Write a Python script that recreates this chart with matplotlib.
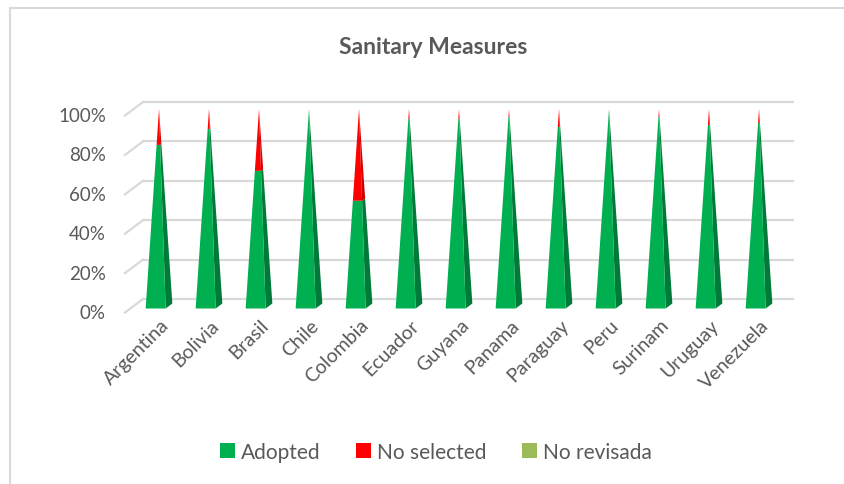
import matplotlib
matplotlib.use("Agg")
import matplotlib.pyplot as plt
from matplotlib.patches import Patch, Polygon
from matplotlib.lines import Line2D

categories = ["Argentina", "Bolivia", "Brasil", "Chile", "Colombia", "Ecuador",
              "Guyana", "Panama", "Paraguay", "Peru", "Surinam", "Uruguay", "Venezuela"]
adopted = [82, 90, 69, 100, 54, 95, 95, 96, 91, 100, 96, 92, 93]
no_selected = [18, 10, 31, 0, 46, 5, 5, 4, 9, 0, 4, 8, 7]
no_revisada = [0, 0, 0, 0, 0, 0, 0, 0, 0, 0, 0, 0, 0]
series_names = ["Adopted", "No selected", "No revisada"]
yticks = [0, 20, 40, 60, 80, 100]
ytick_labels = ["0%", "20%", "40%", "60%", "80%", "100%"]

front_colors = ["#00B050", "#FF0000", "#9BBB59"]
side_colors = ["#007A38", "#D00000", "#76923C"]
text_color = "#595959"
grid_color = "#D9D9D9"

plt.rcParams['font.family'] = ['Lato', 'DejaVu Sans']

W, H = 844, 485
fig = plt.figure(figsize=(W / 100, H / 100), dpi=100)

# axes placed in pixel units
ax_left, ax_right = 125, 795
ax_top, ax_bottom = 110, 307
ax = fig.add_axes([ax_left / W, 1 - ax_bottom / H, (ax_right - ax_left) / W, (ax_bottom - ax_top) / H])
px_per_x = 50.0
x0 = -(159 - ax_left) / px_per_x
x1 = x0 + (ax_right - ax_left) / px_per_x
ax.set_xlim(x0, x1)
ax.set_ylim(0, 100)
ax.axis("off")
py = (ax_bottom - ax_top) / 100.0  # pixels per y unit


def dx(p):
    return p / px_per_x


def dy(p):
    return p / py

# back wall gridlines + left wall diagonals
back_shift = dy(7)
for v, lab in zip(yticks, ytick_labels):
    yb = v + back_shift
    ax.add_line(Line2D([dx(143 - 125) + x0, dx(793 - 125) + x0], [yb, yb],
                       color=grid_color, lw=1.6, clip_on=False, zorder=1))
    ax.add_line(Line2D([x0, dx(143 - 125) + x0], [yb - dy(13.5), yb],
                       color=grid_color, lw=1.6, clip_on=False, zorder=1))
    ax.text(x0 - dx(19), yb - dy(13.5), lab, ha="right", va="center",
            fontsize=13.5, color=text_color)

# pyramids
hw = dx(10)
ddx, ddy = dx(6.7), dy(5)


def corner(i, t, sx, sz):
    # t: fraction of height (0..1); sx: -1/+1 left/right ; sz: -1 front, +1 back
    s = 1 - t
    return (i + s * (sx * hw + sz * ddx / 2), 100 * t + s * (sz * ddy / 2))


stack = [adopted, no_selected, no_revisada]
for i in range(len(categories)):
    total = adopted[i] + no_selected[i] + no_revisada[i]
    base = 0.0
    for k, vals in enumerate(stack):
        if vals[i] <= 0:
            continue
        t0 = base / total
        t1 = (base + vals[i]) / total
        front = [corner(i, t0, -1, -1), corner(i, t0, 1, -1), corner(i, t1, 1, -1), corner(i, t1, -1, -1)]
        side = [corner(i, t0, 1, -1), corner(i, t0, 1, 1), corner(i, t1, 1, 1), corner(i, t1, 1, -1)]
        ax.add_patch(Polygon(side, closed=True, facecolor=side_colors[k], edgecolor="none",
                             clip_on=False, zorder=3))
        ax.add_patch(Polygon(front, closed=True, facecolor=front_colors[k], edgecolor="none",
                             clip_on=False, zorder=4))
        base += vals[i]
    ax.text(i + dx(1), -dy(10), categories[i], rotation=45, rotation_mode="anchor",
            ha="right", va="top", fontsize=14, color=text_color)

# title
fig.text(433 / W, 1 - 47 / H, "Sanitary Measures", ha="center", va="center",
         fontsize=16.5, fontweight="bold", color=text_color)

# legend
handles = [Patch(facecolor=c, edgecolor="none") for c in front_colors]
fig.legend(handles, series_names, loc="center", bbox_to_anchor=(436 / W, 1 - 453 / H),
           ncol=3, frameon=False, handlelength=0.7, handleheight=0.7,
           handletextpad=0.3, columnspacing=1.7, fontsize=15, labelcolor=text_color)

# chart area border (top and left)
fig.add_artist(Line2D([10 / W, 1], [1 - 9 / H, 1 - 9 / H], transform=fig.transFigure,
                      color=grid_color, lw=1.5))
fig.add_artist(Line2D([10 / W, 10 / W], [0, 1 - 9 / H], transform=fig.transFigure,
                      color=grid_color, lw=1.5))

fig.savefig("out.png", dpi=100, facecolor="white")
